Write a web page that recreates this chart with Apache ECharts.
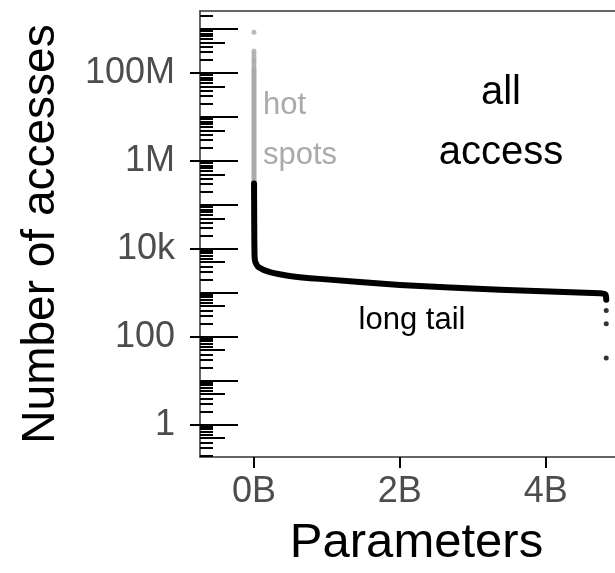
<!DOCTYPE html>
<html>
<head>
<meta charset="utf-8">
<script src="https://cdn.jsdelivr.net/npm/echarts@6/dist/echarts.min.js"></script>
<style>html,body{margin:0;padding:0;background:#fff}#c{width:615px;height:573px}</style>
</head>
<body>
<div id="c"></div>
<script>
// ---- data (x in billions of parameters, y = number of accesses) ----
const hotDotX = [0, 0.00001, 0.00002, 0.00003, 0.00004, 0.00005, 0.00006, 0.00007];
const hotDotY = [8.5e8, 3.2e8, 2.8e8, 2.4e8, 2.1e8, 1.9e8, 1.7e8, 1.5e8];
const hotLineX = [0.0001, 0.0003, 0.0005, 0.0007, 0.001];
const hotLineY = [1.3e8, 3e7, 5e6, 1e6, 3.1e5];
const tailX = [0.001, 0.003, 0.005, 0.008, 0.012, 0.02, 0.06, 0.22, 0.49, 0.9, 2.0, 3.37, 4.74, 4.82, 4.83];
const tailY = [3.1e5, 6e4, 1.5e4, 7000, 5800, 5000, 3900, 2960, 2440, 2090, 1520, 1180, 980, 920, 700];
const endDotX = [4.83, 4.83, 4.83];
const endDotY = [400, 200, 33];
const xTicks = [0, 2, 4];
const xTickLabels = ['0B', '2B', '4B'];
const yTicks = [1, 100, 1e4, 1e6, 1e8];
const yTickLabels = ['1', '100', '10k', '1M', '100M'];
const decadeTicks = [1, 10, 100, 1e3, 1e4, 1e5, 1e6, 1e7, 1e8, 1e9];
const fiveTicks = [0.5, 5, 50, 500, 5e3, 5e4, 5e5, 5e6, 5e7, 5e8];
const minorMult = [2, 3, 4, 6, 7, 8, 9];
const minorExp = [-1, 0, 1, 2, 3, 4, 5, 6, 7, 8, 9];

const Y_MIN = 0.185, Y_MAX = 2.6e9, X_MIN = -0.74, X_MAX = 4.95;
const FONT = 'Liberation Sans';
const minorTicks = [];
minorExp.forEach(e => minorMult.forEach(m => {
  const v = m * Math.pow(10, e);
  if (v >= Y_MIN && v <= Y_MAX) minorTicks.push(v);
}));

const zip = (xs, ys) => xs.map((x, i) => [x, ys[i]]);
const chart = echarts.init(document.getElementById('c'), null, {renderer: 'canvas'});

function innerTickAxis(values, len) {
  return {
    type: 'log', logBase: 10, min: Y_MIN, max: Y_MAX, gridIndex: 0, position: 'left', offset: 0,
    axisLine: {show: false, onZero: false}, splitLine: {show: false}, axisLabel: {show: false},
    axisTick: {show: true, inside: true, length: len, customValues: values,
      lineStyle: {color: '#000', width: 2}}
  };
}

chart.setOption({
  animation: false,
  textStyle: {fontFamily: FONT},
  grid: {left: 200, top: 11, right: 0, bottom: 113, containLabel: false},
  xAxis: [{
    type: 'value', min: X_MIN, max: X_MAX,
    name: 'Parameters', nameLocation: 'middle', nameGap: 62,
    nameTextStyle: {fontSize: 49, color: '#000', fontFamily: FONT, padding: [0, 0, 0, 18]},
    axisLine: {show: true, onZero: false, lineStyle: {color: '#333', width: 1.5}},
    axisTick: {show: true, length: 11, customValues: xTicks, lineStyle: {color: '#000', width: 2}},
    axisLabel: {show: true, customValues: xTicks, margin: 17, fontSize: 36, color: '#4d4d4d', fontFamily: FONT,
      formatter: v => xTickLabels[xTicks.indexOf(v)] ?? ''},
    splitLine: {show: false}
  }, {
    type: 'value', min: X_MIN, max: X_MAX, position: 'top',
    axisLine: {show: true, onZero: false, lineStyle: {color: '#333', width: 1.5}},
    axisTick: {show: false}, axisLabel: {show: false}, splitLine: {show: false}
  }],
  yAxis: [{
    type: 'log', logBase: 10, min: Y_MIN, max: Y_MAX, position: 'left', offset: 0,
    name: 'Number of accesses', nameLocation: 'middle', nameGap: 136, nameRotate: 90,
    nameTextStyle: {fontSize: 46, color: '#000', fontFamily: FONT},
    axisLine: {show: true, onZero: false, lineStyle: {color: '#333', width: 1.5}},
    axisTick: {show: true, length: 10, customValues: yTicks, lineStyle: {color: '#000', width: 2}},
    axisLabel: {show: true, customValues: yTicks, margin: 25, fontSize: 36, color: '#4d4d4d', fontFamily: FONT,
      formatter: v => { const i = yTicks.findIndex(t => Math.abs(Math.log10(t) - Math.log10(v)) < 1e-6); return i >= 0 ? yTickLabels[i] : ''; }},
    splitLine: {show: false}
  },
    innerTickAxis(decadeTicks, 38),
    innerTickAxis(fiveTicks, 25),
    innerTickAxis(minorTicks, 13)
  ],
  series: [
    {type: 'scatter', data: zip(hotDotX, hotDotY), symbolSize: 5, itemStyle: {color: '#aaaaaa'}, silent: true},
    {type: 'line', data: zip(hotLineX, hotLineY), showSymbol: false,
      lineStyle: {color: '#aaaaaa', width: 5, cap: 'round', join: 'round'}, silent: true},
    {type: 'line', data: zip(tailX, tailY), showSymbol: false, smooth: 0.2,
      lineStyle: {color: '#000', width: 6, cap: 'round', join: 'round'}, silent: true},
    {type: 'scatter', data: zip(endDotX, endDotY), symbolSize: 5, itemStyle: {color: '#000'}, silent: true}
  ],
  graphic: [
    {type: 'text', x: 501, y: 93, style: {text: 'all', font: '40px "Liberation Sans"', fill: '#000', align: 'center', verticalAlign: 'middle'}},
    {type: 'text', x: 501, y: 153, style: {text: 'access', font: '40px "Liberation Sans"', fill: '#000', align: 'center', verticalAlign: 'middle'}},
    {type: 'text', x: 263, y: 105, style: {text: 'hot', font: '31px "Liberation Sans"', fill: '#aaaaaa', align: 'left', verticalAlign: 'middle'}},
    {type: 'text', x: 263, y: 155, style: {text: 'spots', font: '31px "Liberation Sans"', fill: '#aaaaaa', align: 'left', verticalAlign: 'middle'}},
    {type: 'text', x: 412, y: 320, style: {text: 'long tail', font: '31px "Liberation Sans"', fill: '#000', align: 'center', verticalAlign: 'middle'}}
  ]
});
</script>
</body>
</html>
